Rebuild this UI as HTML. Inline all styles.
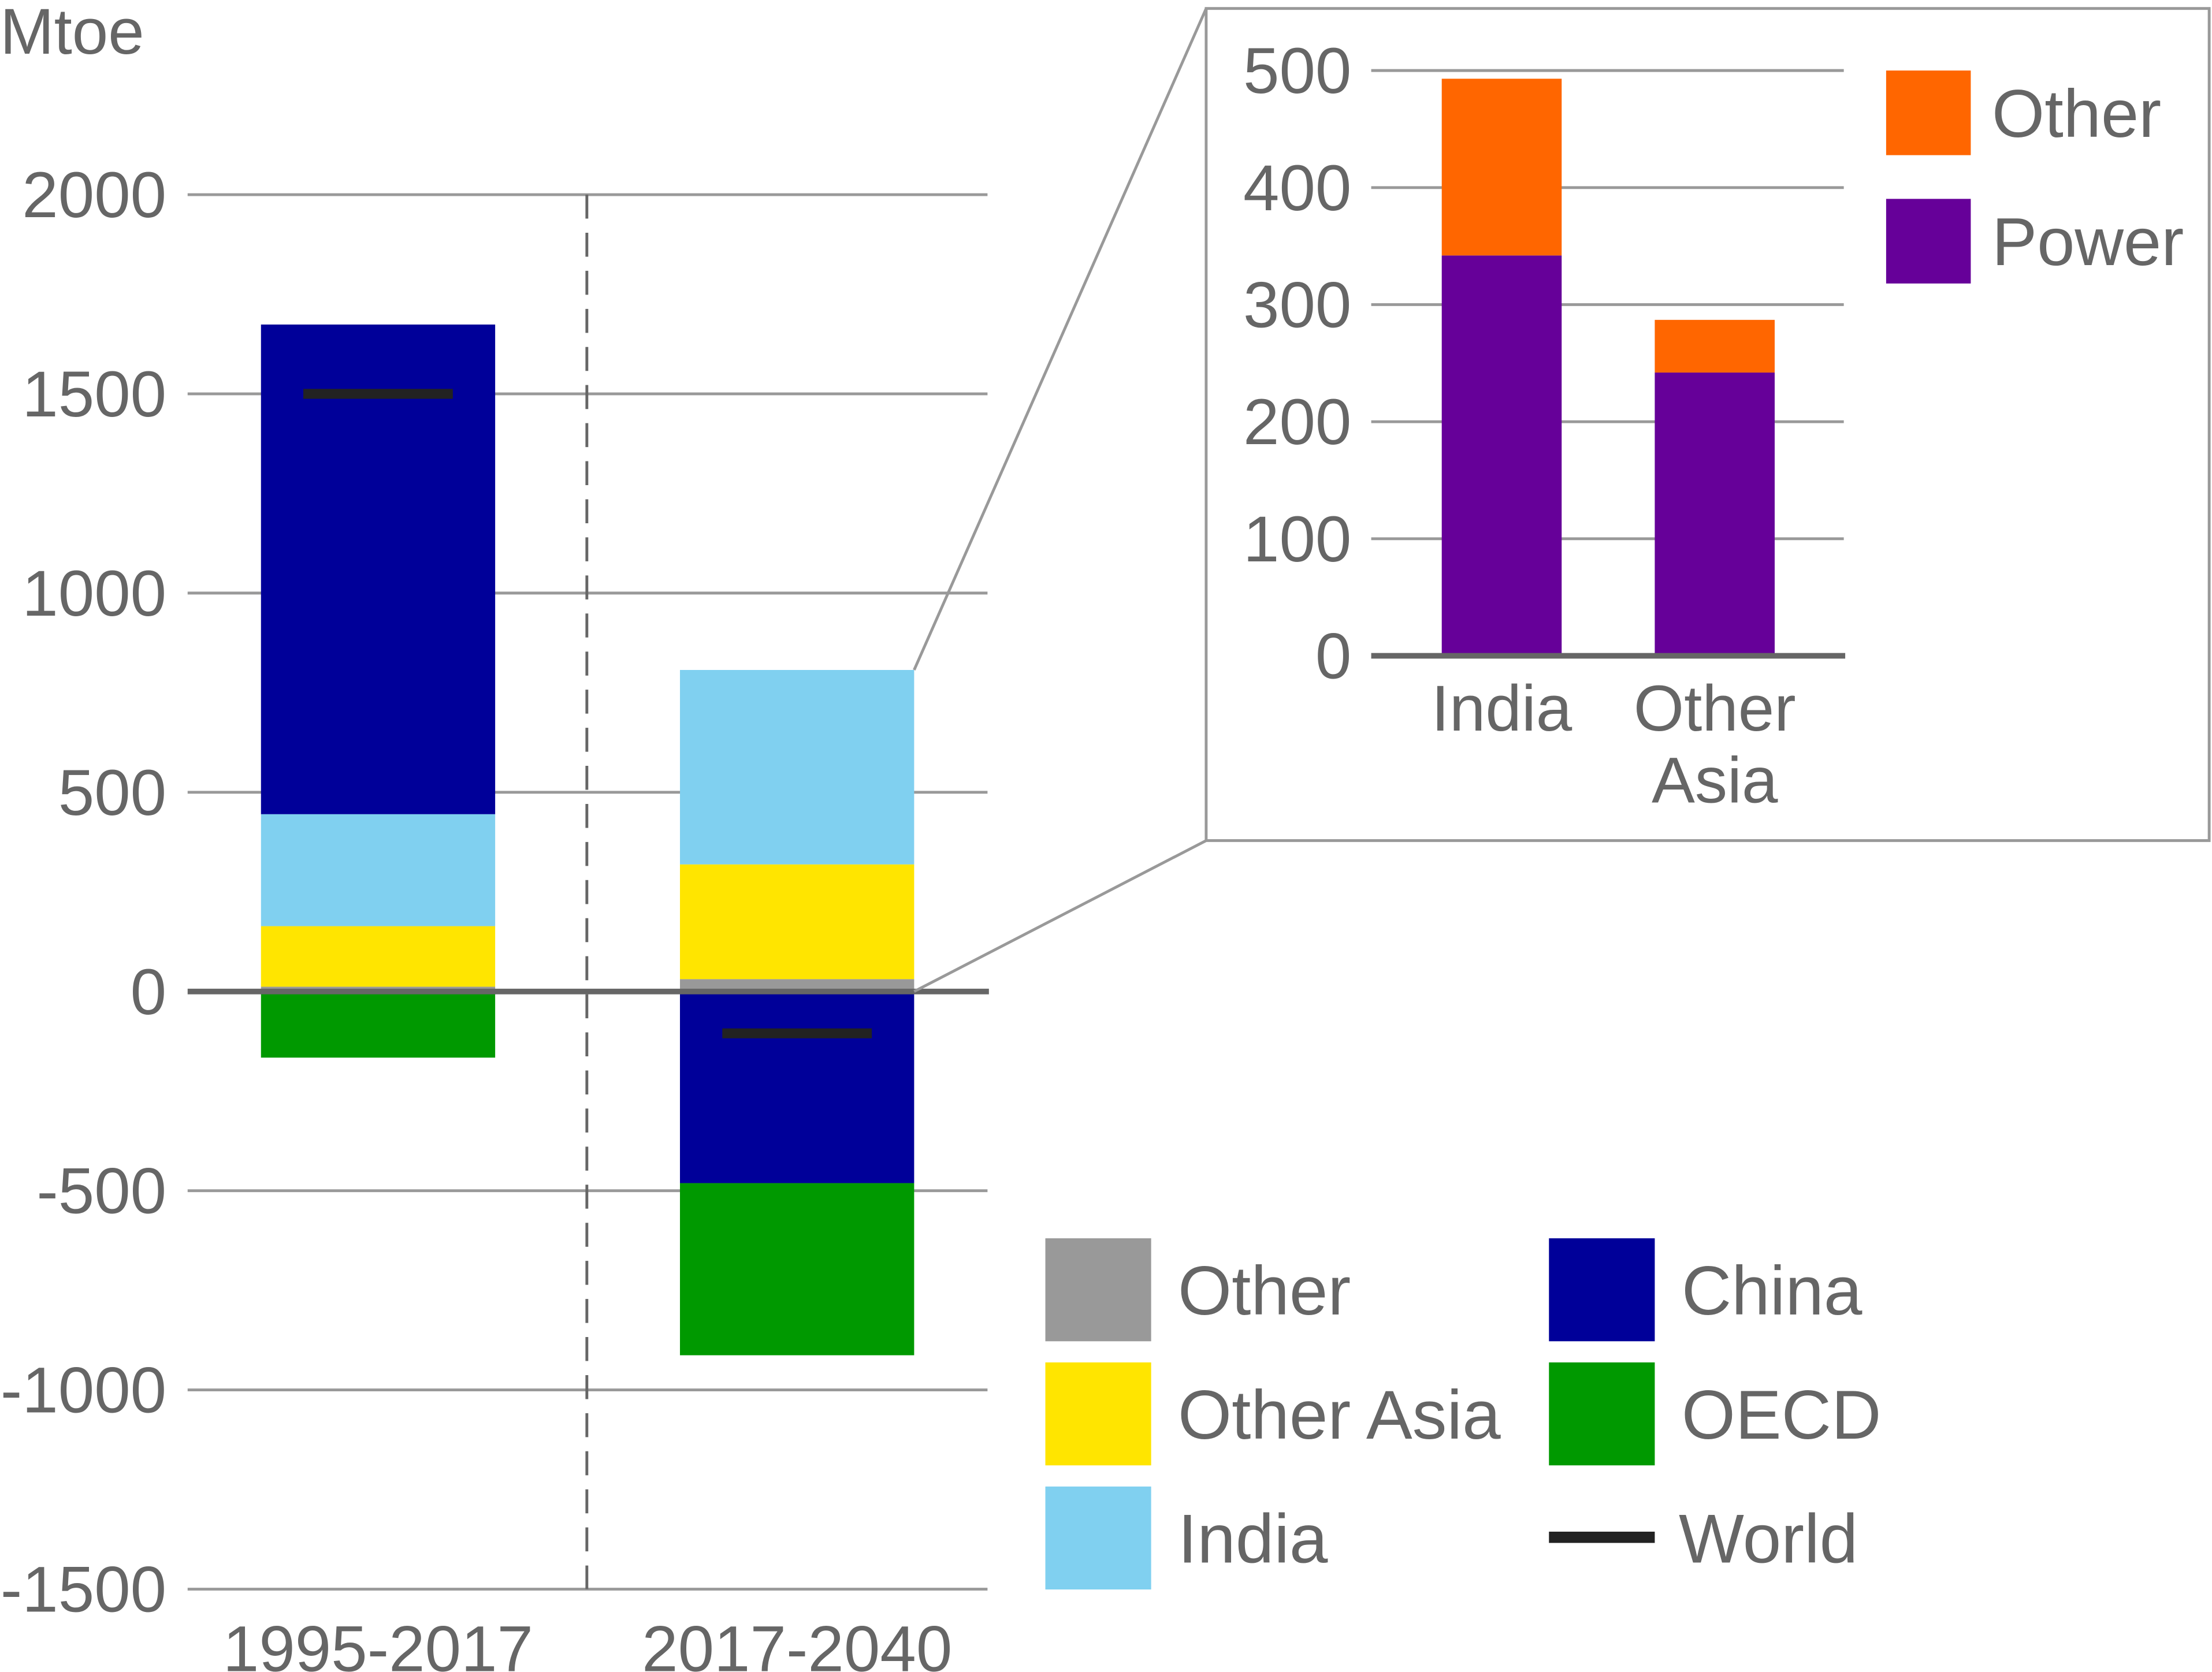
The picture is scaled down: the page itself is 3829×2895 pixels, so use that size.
<!DOCTYPE html>
<html><head><meta charset="utf-8"><style>
html,body{margin:0;padding:0;background:#fff;}
svg{display:block;font-family:"Liberation Sans",sans-serif;}
</style></head><body>
<svg id="chart" width="3829" height="2895" viewBox="0 0 1568 1185.5" xmlns="http://www.w3.org/2000/svg">
<g id="main"></g><g id="inset"></g><g id="legend"></g>
</svg>
<script>
// main chart data
const periods = ["1995-2017","2017-2040"];
const otherVals = [12, 31];
const otherAsiaVals = [152, 288];
const indiaVals = [281, 488];
const chinaVals = [1229, -481];
const oecdVals = [-166, -432];
const worldVals = [1500, -105];
const mainTicks = [2000,1500,1000,500,0,-500,-1000,-1500];
// inset data
const insetCats = [["India"],["Other","Asia"]];
const powerVals = [342, 242];
const insetOtherVals = [151, 45];
const insetTicks = [500,400,300,200,100,0];

const NS="http://www.w3.org/2000/svg";
function mk(tag,attrs,parent,text){const e=document.createElementNS(NS,tag);for(const k in attrs)e.setAttribute(k,attrs[k]);if(text!==undefined)e.textContent=text;parent.appendChild(e);return e;}
const main=document.getElementById('main'),inset=document.getElementById('inset'),legend=document.getElementById('legend');
const y=v=>703-v*(565/2000);
const barX=[185,482], barW=166;
const TXT='#666666';

mk('text',{x:0,y:38,'font-size':46,fill:TXT},main,'Mtoe');
mainTicks.forEach(t=>{
  if(t!==0){const g=mk('line',{x1:133,x2:700,y1:y(t),y2:y(t),stroke:'#999','stroke-width':2},main);
  
  }
  const tx=mk('text',{x:118,y:y(t)+16,'text-anchor':'end','font-size':46,fill:TXT},main,String(t));
  
  
});
const dv=mk('line',{x1:416,x2:416,y1:y(2000),y2:y(-1500),stroke:'#666','stroke-width':2,'stroke-dasharray':'17 10'},main);



function seg(i,a,b,color,name){
  const r=mk('rect',{x:barX[i],y:Math.min(y(a),y(b)),width:barW,height:Math.abs(y(a)-y(b)),fill:color},main);
  
  
}
periods.forEach((p,i)=>{
  let pos=0;
  [[otherVals,'#999999','bar-other'],[otherAsiaVals,'#ffe500','bar-other-asia'],[indiaVals,'#80d0f0','bar-india'],[chinaVals,'#000099','bar-china']].forEach(([arr,c,n])=>{
    const v=arr[i]; if(v>0){seg(i,pos,pos+v,c,n);pos+=v;}
  });
  let neg=0;
  [[chinaVals,'#000099','bar-china'],[oecdVals,'#009900','bar-oecd']].forEach(([arr,c,n])=>{
    const v=arr[i]; if(v<0){seg(i,neg,neg+v,c,n);neg+=v;}
  });
  const w=mk('line',{x1:barX[i]+30,x2:barX[i]+barW-30,y1:y(worldVals[i]),y2:y(worldVals[i]),stroke:'#222','stroke-width':7},main);
  
  
  const lb=mk('text',{x:barX[i]+barW/2,y:1185,'text-anchor':'middle','font-size':46,fill:TXT},main,p);
  
  
});
const zl=mk('line',{x1:133,x2:701,y1:y(0),y2:y(0),stroke:'#666','stroke-width':4},main);



// inset
const top2=barX[1]+barW, topY=y(otherVals[1]+otherAsiaVals[1]+indiaVals[1]);
const c1=mk('line',{x1:top2,y1:topY,x2:855,y2:6,stroke:'#999','stroke-width':2},inset);


const c2=mk('line',{x1:top2,y1:y(0),x2:855,y2:596,stroke:'#999','stroke-width':2},inset);


const box=mk('rect',{x:855,y:6,width:711,height:590,fill:'#fff',stroke:'#999','stroke-width':2},inset);


const iy=v=>465-v*0.83;
insetTicks.forEach(t=>{
  if(t!==0){const g=mk('line',{x1:972,x2:1307,y1:iy(t),y2:iy(t),stroke:'#999','stroke-width':2},inset);
  
  }
  const tx=mk('text',{x:958,y:iy(t)+16,'text-anchor':'end','font-size':46,fill:TXT},inset,String(t));
  
  
});
const ibx=[1022,1173], ibw=85;
insetCats.forEach((c,i)=>{
  const p=mk('rect',{x:ibx[i],y:iy(powerVals[i]),width:ibw,height:iy(0)-iy(powerVals[i]),fill:'#660099'},inset);
  
  
  const o=mk('rect',{x:ibx[i],y:iy(powerVals[i]+insetOtherVals[i]),width:ibw,height:iy(powerVals[i])-iy(powerVals[i]+insetOtherVals[i]),fill:'#ff6600'},inset);
  
  
  c.forEach((line,k)=>{
    const t=mk('text',{x:ibx[i]+ibw/2,y:518+k*51,'text-anchor':'middle','font-size':46,fill:TXT},inset,line);
    
    
  });
});
const iz=mk('line',{x1:972,x2:1308,y1:465,y2:465,stroke:'#666','stroke-width':4},inset);


[['Other','#ff6600',50],['Power','#660099',141]].forEach(([n,c,yy])=>{
  const s=mk('rect',{x:1337,y:yy,width:60,height:60,fill:c},inset);
  
  
  const t=mk('text',{x:1412,y:yy+47,'font-size':48,fill:TXT},inset,n);
  
  
});

// main legend
[['Other','#999999',741,878],['Other Asia','#ffe500',741,966],['India','#80d0f0',741,1054],['China','#000099',1098,878],['OECD','#009900',1098,966]].forEach(([n,c,xx,yy])=>{
  const s=mk('rect',{x:xx,y:yy,width:75,height:73,fill:c},legend);
  
  
  const t=mk('text',{x:xx+94,y:yy+54,'font-size':49,fill:TXT},legend,n);
  
  
});
const wl=mk('line',{x1:1098,x2:1173,y1:1090,y2:1090,stroke:'#222','stroke-width':8},legend);


const wt=mk('text',{x:1190,y:1108,'font-size':49,fill:TXT},legend,'World');


</script>
</body></html>
